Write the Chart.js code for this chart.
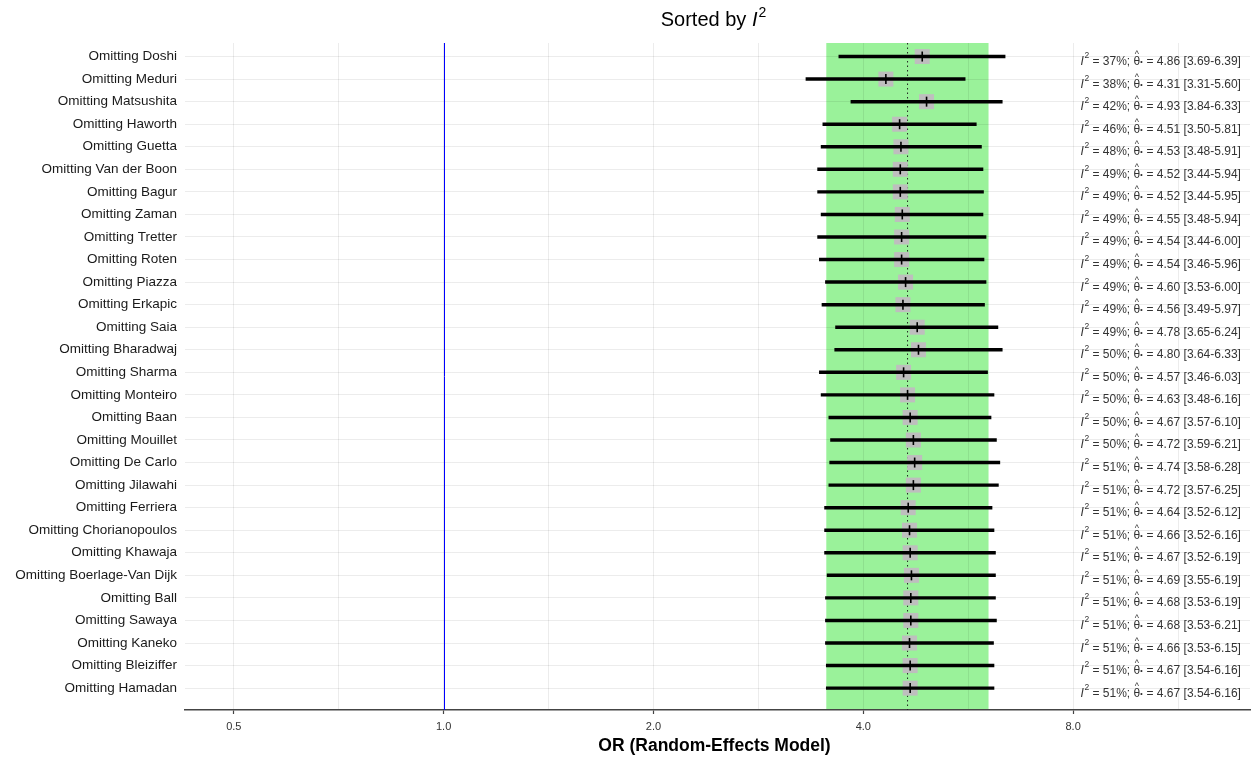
<!DOCTYPE html>
<html>
<head>
<meta charset="utf-8">
<script src="https://cdn.jsdelivr.net/npm/chart.js@4.4.0/dist/chart.umd.min.js"></script>
<style>
  html, body { margin: 0; padding: 0; background: #fff; }
</style>
</head>
<body>
<canvas id="looChart" width="1255" height="759"></canvas>
<script>
// leave-one-out results, sorted by I^2
const studies = [
  "Doshi", "Meduri", "Matsushita", "Haworth", "Guetta", "Van der Boon",
  "Bagur", "Zaman", "Tretter", "Roten", "Piazza", "Erkapic", "Saia",
  "Bharadwaj", "Sharma", "Monteiro", "Baan", "Mouillet", "De Carlo",
  "Jilawahi", "Ferriera", "Chorianopoulos", "Khawaja", "Boerlage-Van Dijk",
  "Ball", "Sawaya", "Kaneko", "Bleiziffer", "Hamadan"
];
const i2 = [37, 38, 42, 46, 48, 49, 49, 49, 49, 49, 49, 49, 49,
  50, 50, 50, 50, 50, 51, 51, 51, 51, 51, 51, 51, 51, 51, 51, 51];
const estimate = [4.86, 4.31, 4.93, 4.51, 4.53, 4.52, 4.52, 4.55, 4.54, 4.54,
  4.60, 4.56, 4.78, 4.80, 4.57, 4.63, 4.67, 4.72, 4.74, 4.72, 4.64, 4.66,
  4.67, 4.69, 4.68, 4.68, 4.66, 4.67, 4.67];
const lower = [3.69, 3.31, 3.84, 3.50, 3.48, 3.44, 3.44, 3.48, 3.44, 3.46,
  3.53, 3.49, 3.65, 3.64, 3.46, 3.48, 3.57, 3.59, 3.58, 3.57, 3.52, 3.52,
  3.52, 3.55, 3.53, 3.53, 3.53, 3.54, 3.54];
const upper = [6.39, 5.60, 6.33, 5.81, 5.91, 5.94, 5.95, 5.94, 6.00, 5.96,
  6.00, 5.97, 6.24, 6.33, 6.03, 6.16, 6.10, 6.21, 6.28, 6.25, 6.12, 6.16,
  6.19, 6.19, 6.19, 6.21, 6.15, 6.16, 6.16];

const majorTicks = [0.5, 1, 2, 4, 8];
const minorTicks = [0.7071, 1.4142, 2.8284, 5.6569, 11.3137];

const pooledBand = [3.54, 6.05];
const pooledLine = 4.63;
const nullLine = 1;

const FONT = '"Liberation Sans", Arial, sans-serif';

function rowLabel(i) {
  return "Omitting " + studies[i];
}

// green band behind the grid
const bandPlugin = {
  id: "band",
  beforeDraw(chart) {
    const { ctx, chartArea, scales } = chart;
    ctx.save();
    ctx.fillStyle = "#fff";
    ctx.fillRect(0, 0, chart.width, chart.height);
    const x0 = scales.x.getPixelForValue(pooledBand[0]);
    const x1 = scales.x.getPixelForValue(pooledBand[1]);
    ctx.fillStyle = "rgb(154,242,154)";
    ctx.fillRect(x0, chartArea.top, x1 - x0, chartArea.bottom - chartArea.top);
    ctx.restore();
  }
};

// null line + pooled estimate line
const refLinesPlugin = {
  id: "refLines",
  beforeDatasetsDraw(chart) {
    const { ctx, chartArea, scales } = chart;
    ctx.save();

    const xb = Math.round(scales.x.getPixelForValue(nullLine)) + 0.5;
    ctx.strokeStyle = "#0000ff";
    ctx.lineWidth = 1;
    ctx.beginPath();
    ctx.moveTo(xb, chartArea.top);
    ctx.lineTo(xb, chartArea.bottom);
    ctx.stroke();

    const xd = scales.x.getPixelForValue(pooledLine);
    ctx.strokeStyle = "#222";
    ctx.setLineDash([1.5, 3]);
    ctx.beginPath();
    ctx.moveTo(xd, chartArea.top);
    ctx.lineTo(xd, chartArea.bottom);
    ctx.stroke();
    ctx.restore();
  }
};

function drawStat(ctx, x, y, i) {
  ctx.fillStyle = "#333";
  ctx.textAlign = "left";
  ctx.textBaseline = "alphabetic";

  ctx.font = "italic 12px " + FONT;
  ctx.fillText("I", x, y);
  x += ctx.measureText("I").width + 0.5;

  ctx.font = "8.5px " + FONT;
  ctx.fillText("2", x, y - 7);
  x += ctx.measureText("2").width;

  ctx.font = "12px " + FONT;
  let s = " = " + i2[i] + "%; ";
  ctx.fillText(s, x, y);
  x += ctx.measureText(s).width;

  ctx.fillText("\u03b8", x, y);
  const tw = ctx.measureText("\u03b8").width;
  ctx.font = "9px " + FONT;
  ctx.textAlign = "center";
  ctx.fillText("^", x + tw / 2, y - 8);
  ctx.textAlign = "left";
  x += tw;

  ctx.font = "bold 12px " + FONT;
  ctx.fillText("\u00b7", x - 0.5, y + 1);
  x += 3;

  ctx.font = "12px " + FONT;
  s = " = " + estimate[i].toFixed(2) +
    " [" + lower[i].toFixed(2) + "-" + upper[i].toFixed(2) + "]";
  ctx.fillText(s, x, y);
}

const textPlugin = {
  id: "texts",
  afterDraw(chart) {
    const { ctx, chartArea, scales } = chart;
    ctx.save();

    // per-row statistics on the right
    const xText = scales.x.getPixelForValue(8.2);
    studies.forEach((s, i) => {
      const y = scales.y.getPixelForValue(i);
      drawStat(ctx, xText, y + 8.5, i);
    });

    // title "Sorted by I^2"
    const cx = (chartArea.left + chartArea.right) / 2 - 4;
    ctx.fillStyle = "#000";
    ctx.textBaseline = "alphabetic";
    ctx.textAlign = "left";
    ctx.font = "20px " + FONT;
    const t1 = "Sorted by ";
    const w1 = ctx.measureText(t1).width;
    ctx.font = "italic 20px " + FONT;
    const w2 = ctx.measureText("I").width;
    ctx.font = "14px " + FONT;
    const w3 = ctx.measureText("2").width;
    let tx = cx - (w1 + w2 + 1 + w3) / 2;
    const ty = 26;
    ctx.font = "20px " + FONT;
    ctx.fillText(t1, tx, ty);
    tx += w1;
    ctx.font = "italic 20px " + FONT;
    ctx.fillText("I", tx, ty);
    tx += w2 + 1;
    ctx.font = "14px " + FONT;
    ctx.fillText("2", tx, ty - 9);

    // x axis title
    ctx.font = "bold 17.5px " + FONT;
    ctx.textAlign = "center";
    ctx.textBaseline = "middle";
    ctx.fillStyle = "#000";
    ctx.fillText("OR (Random-Effects Model)", cx + 1, 746);

    ctx.restore();
  }
};

const ctx = document.getElementById("looChart");

const looChart = new Chart(ctx, {
  data: {
    datasets: [
      {
        type: "scatter",
        label: "tick",
        order: 0,
        data: studies.map((s, i) => ({ x: estimate[i], y: i })),
        pointStyle: "line",
        rotation: 90,
        pointRadius: 5,
        borderColor: "#000",
        borderWidth: 1.6
      },
      {
        type: "bar",
        label: "CI",
        order: 1,
        indexAxis: "y",
        data: studies.map((s, i) => ({ x: [lower[i], upper[i]], y: i })),
        backgroundColor: "#000",
        barThickness: 2.8
      },
      {
        type: "scatter",
        label: "estimate",
        order: 2,
        data: studies.map((s, i) => ({ x: estimate[i], y: i })),
        pointStyle: "rect",
        pointRadius: 10.6,
        backgroundColor: "#bebebe",
        borderWidth: 0
      }
    ]
  },
  options: {
    responsive: false,
    animation: false,
    devicePixelRatio: 1,
    layout: {
      autoPadding: false,
      padding: { top: 43, right: 5, left: 0, bottom: 0 }
    },
    plugins: {
      legend: { display: false },
      tooltip: { enabled: false },
      title: { display: false }
    },
    scales: {
      x: {
        type: "logarithmic",
        position: "bottom",
        offset: false,
        min: 0.4256,
        max: 14.35,
        afterBuildTicks(scale) {
          scale.ticks = majorTicks.concat(minorTicks)
            .sort((a, b) => a - b)
            .map(v => ({ value: v }));
        },
        afterFit(scale) {
          scale.height = 49;
        },
        ticks: {
          autoSkip: false,
          maxRotation: 0,
          padding: 6,
          color: "#333",
          font: { family: FONT, size: 11 },
          callback: (v) =>
            majorTicks.includes(v) ? v.toFixed(1) : ""
        },
        grid: {
          offset: false,
          color: "rgba(0,0,0,0.075)",
          lineWidth: 1,
          drawTicks: true,
          tickLength: 4,
          tickColor: (c) =>
            c.tick && majorTicks.includes(c.tick.value) ? "#444" : "rgba(0,0,0,0)",
          tickWidth: 1.2
        },
        border: {
          display: true,
          color: "#444",
          width: 1.5
        }
      },
      y: {
        type: "linear",
        reverse: true,
        offset: false,
        min: -0.6,
        max: 28.97,
        afterBuildTicks(scale) {
          scale.ticks = studies.map((s, i) => ({ value: i }));
        },
        afterFit(scale) {
          scale.width = 185;
        },
        ticks: {
          autoSkip: false,
          padding: 8,
          color: "#1a1a1a",
          font: { family: FONT, size: 13.5 },
          callback: (v) => rowLabel(v)
        },
        grid: {
          offset: false,
          color: "rgba(0,0,0,0.075)",
          lineWidth: 1,
          drawTicks: false
        },
        border: { display: false }
      }
    }
  },
  plugins: [bandPlugin, refLinesPlugin, textPlugin]
});
</script>
</body>
</html>
